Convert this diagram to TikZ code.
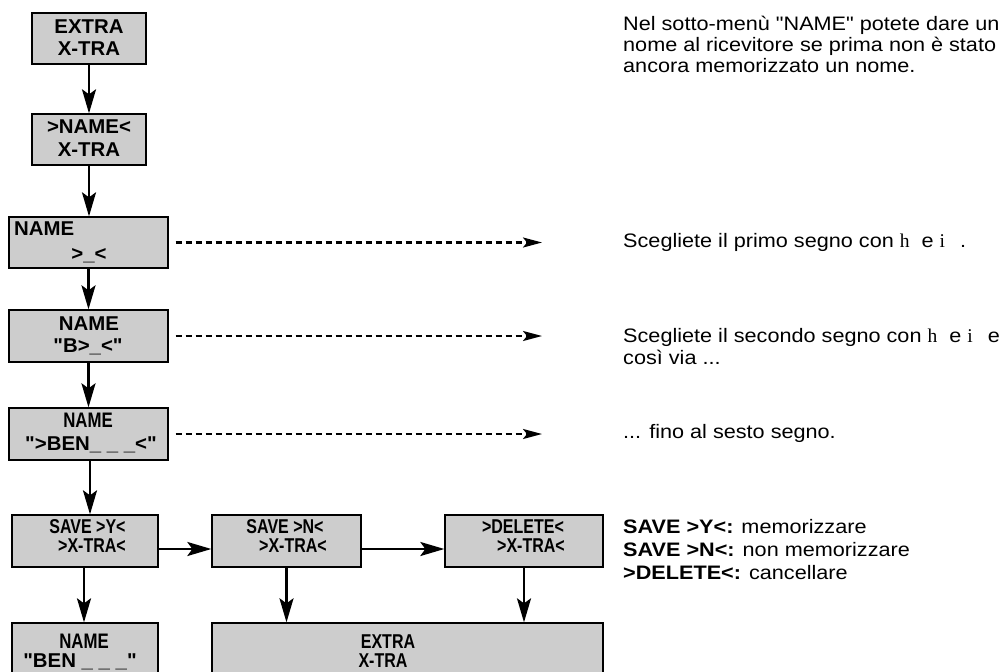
\documentclass[tikz,border=0pt]{standalone}
\usepackage{fontspec}
\setmainfont{Liberation Sans}
\newfontfamily\txtfont[FakeStretch=1.11]{Liberation Sans}
\newfontfamily\boxfontfam[FakeStretch=1.02]{Liberation Sans}
\newfontfamily\condfontfam[FakeStretch=0.8]{Liberation Sans}
\newfontfamily\symfont{Liberation Serif}
\usetikzlibrary{arrows.meta}
\definecolor{boxgray}{RGB}{205,205,205}
\begin{document}
\begin{tikzpicture}[x=1pt,y=-1pt,
  box/.style={draw=black, line width=1.3pt, fill=boxgray, inner sep=0pt},
  bl/.style={font=\boxfontfam\bfseries\fontsize{20}{22}\selectfont, anchor=base, inner sep=0pt},
  cl/.style={font=\condfontfam\bfseries\fontsize{20}{22}\selectfont, anchor=base, inner sep=0pt},
  txt/.style={font=\txtfont\fontsize{19.5}{22}\selectfont, anchor=base west, inner sep=0pt},
  arr/.style={line width=2.6pt, -{Stealth[length=24pt,width=14pt,inset=5pt]}},
  darr/.style={line width=2.2pt, dash pattern=on 6.5pt off 3.5pt, -{Stealth[length=19pt,width=10pt,inset=4pt]}}
]
\useasboundingbox (0,0) rectangle (1002,672);

% boxes
\node[box, minimum width=114pt, minimum height=51pt] (B1) at (89,38.5) {};
\node[box, minimum width=114pt, minimum height=51pt] (B2) at (89,139.5) {};
\node[box, minimum width=159pt, minimum height=51pt] (B3) at (88.5,242.5) {};
\node[box, minimum width=159pt, minimum height=52pt] (B4) at (88.5,336) {};
\node[box, minimum width=159pt, minimum height=52pt] (B5) at (88.5,434) {};
\node[box, minimum width=146pt, minimum height=52pt] (B6) at (85,541) {};
\node[box, minimum width=149pt, minimum height=52pt] (B7) at (286.5,541) {};
\node[box, minimum width=158pt, minimum height=52pt] (B8) at (524,541) {};
\node[box, minimum width=146pt, minimum height=58pt] (B9) at (85,652) {};
\node[box, minimum width=391pt, minimum height=58pt] (B10) at (407.5,652) {};

% box labels
\node[bl] (t1a) at (89,33) {EXTRA};
\node[bl] (t1b) at (89,55) {X-TRA};
\node[bl] (t2a) at (89,133) {>NAME<};
\node[bl] (t2b) at (89,156) {X-TRA};
\node[bl, anchor=base west] (t3a) at (14,235) {NAME};
\node[bl] (t3b) at (89,260) {>\_<};
\node[bl] (t4a) at (89,330) {NAME};
\node[bl] (t4b) at (88,352) {"B>\_<"};
\node[cl, font=\condfontfam\bfseries\fontsize{21}{22}\selectfont] (t5a) at (88,427) {NAME};
\node[bl] (t5b) at (91,450) {">BEN\_ \_ \_<"};
\node[cl] (t6a) at (87.5,533) {SAVE >Y<};
\node[cl] (t6b) at (92,552) {>X-TRA<};
\node[cl] (t7a) at (285,533) {SAVE >N<};
\node[cl] (t7b) at (293,552) {>X-TRA<};
\node[cl] (t8a) at (523,533) {>DELETE<};
\node[cl] (t8b) at (531,552) {>X-TRA<};
\node[cl, font=\condfontfam\bfseries\fontsize{21}{22}\selectfont] (t9a) at (84,648) {NAME};
\node[bl] (t9b) at (80,667) {"BEN \_ \_ \_"};
\node[cl] (t10a) at (388,648) {EXTRA};
\node[cl] (t10b) at (383,667) {X-TRA};

% solid arrows
\draw[arr] (B1.south) -- (B1.south |- B2.north);
\draw[arr] (B2.south) -- (B2.south |- B3.north);
\draw[arr] (B3.south) -- (B3.south |- B4.north);
\draw[arr] (B4.south) -- (B4.south |- B5.north);
\draw[arr] ([xshift=1.5pt]B5.south) -- ([xshift=1.5pt]B5.south |- B6.north);
\draw[arr] ([yshift=-8pt]B6.east) -- ([yshift=-8pt]B7.west);
\draw[arr] ([yshift=-8pt]B7.east) -- ([yshift=-8pt]B8.west);
\draw[arr] ([xshift=-1pt]B6.south) -- ([xshift=-1pt]B6.south |- B9.north);
\draw[arr] (B7.south) -- (B7.south |- B10.north);
\draw[arr] (B8.south) -- (B8.south |- B10.north);

% dashed arrows
\coordinate (d1) at (542,242.5);
\coordinate (d2) at (542,336);
\coordinate (d3) at (542,434);
\draw[darr] ([xshift=7pt]B3.east) -- (d1);
\draw[darr] ([xshift=7pt]B4.east) -- (d2);
\draw[darr] ([xshift=7pt]B5.east) -- (d3);

% right texts
\node[txt] (p1) at (623,30) {Nel sotto-menù "NAME" potete dare un};
\node[txt] (p2) at (623,51) {nome al ricevitore se prima non è stato};
\node[txt] (p3) at (623,72) {ancora memorizzato un nome.};
\node[txt] (s1) at (623,247) {Scegliete il primo segno con {\symfont h}\hspace{12pt}e {\symfont i}\hspace{9pt} .};
\node[txt] (s2) at (623,342) {Scegliete il secondo segno con {\symfont h}\hspace{12pt}e {\symfont i}\hspace{9pt} e};
\node[txt] (s3) at (623,364) {così via ...};
\node[txt] (s4) at (623,438) {... fino al sesto segno.};
\node[txt] (l1) at (623,533) {\textbf{SAVE >Y<:} memorizzare};
\node[txt] (l2) at (623,556) {\textbf{SAVE >N<:} non memorizzare};
\node[txt] (l3) at (623,579) {\textbf{>DELETE<:} cancellare};
\end{tikzpicture}
\end{document}
